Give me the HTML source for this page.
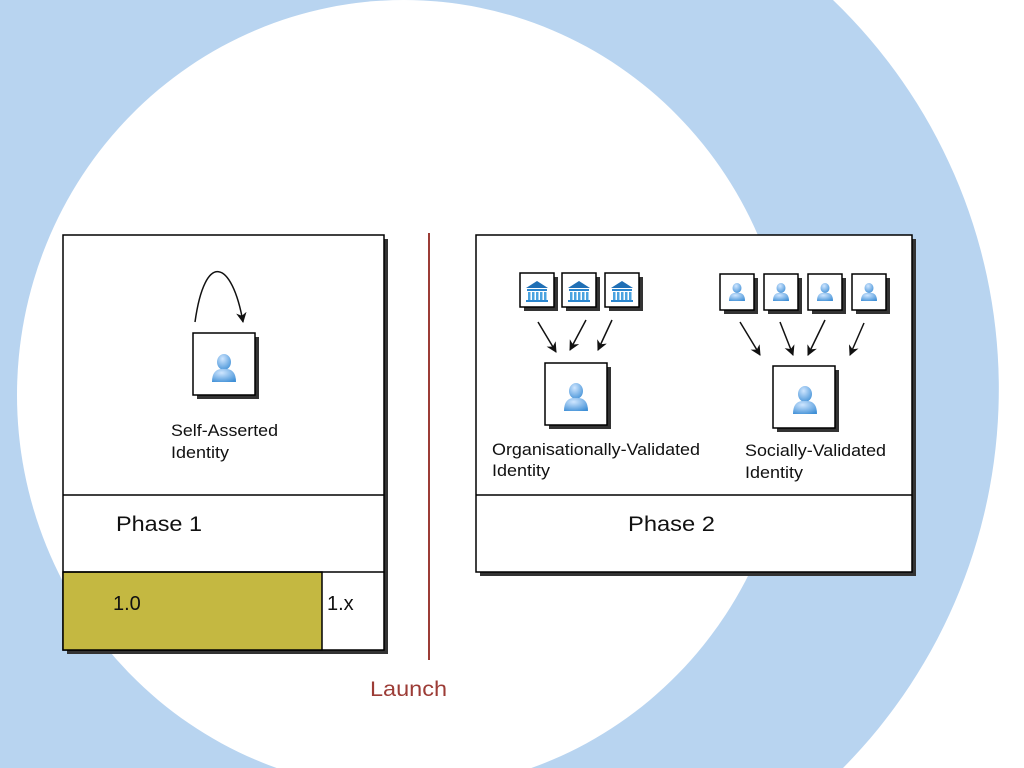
<!DOCTYPE html>
<html><head><meta charset="utf-8"><style>
body{margin:0;width:1024px;height:768px;overflow:hidden;font-family:"Liberation Sans",sans-serif;}
svg{display:block;}
</style></head><body>
<svg width="1024" height="768" xmlns="http://www.w3.org/2000/svg" font-family="Liberation Sans, sans-serif">
<defs>
<radialGradient id="pg" cx="0.4" cy="0.3" r="0.8"><stop offset="0" stop-color="#cfe6ff"/><stop offset="1" stop-color="#3f8fd6"/></radialGradient>
<marker id="ah" viewBox="0 0 10 10" refX="9" refY="5" markerWidth="7" markerHeight="7" orient="auto"><path d="M0,0 L10,5 L0,10 L3,5 z" fill="#111"/></marker>
<g id="person"><ellipse cx="0" cy="-6" rx="7" ry="8" fill="url(#pg)"/><path d="M-12,14 Q-12,0 0,1 Q12,0 12,14 Z" fill="url(#pg)"/></g>
<g id="sperson"><ellipse cx="0" cy="-4" rx="4.5" ry="5" fill="url(#pg)"/><path d="M-8,9 Q-8,0 0,1 Q8,0 8,9 Z" fill="url(#pg)"/></g>
<g id="bank"><path d="M-11,-3 L0,-10 L11,-3 Z" fill="#1f6fb5"/><rect x="-10" y="-2" width="20" height="2" fill="#2a86cf"/><g fill="#4aa3e0"><rect x="-9" y="1" width="2.5" height="8"/><rect x="-5" y="1" width="2.5" height="8"/><rect x="-1" y="1" width="2.5" height="8"/><rect x="3" y="1" width="2.5" height="8"/><rect x="7" y="1" width="2.5" height="8"/></g><rect x="-11" y="9" width="22" height="2" fill="#2a86cf"/></g>
</defs>
<rect width="1024" height="768" fill="#b8d4f0"/>
<path d="M1024,0 L833,0 A539,539 0 0 1 843,768 L1024,768 Z" fill="#fff"/>
<ellipse cx="404" cy="395" rx="387" ry="395" fill="#fff"/>
<!-- left box -->
<rect x="67" y="239" width="321" height="415" fill="#333"/>
<rect x="63" y="235" width="321" height="415" fill="#fff" stroke="#000" stroke-width="1.5"/>
<rect x="63" y="572" width="259" height="78" fill="#c4b841" stroke="#000" stroke-width="1.5"/>
<line x1="63" y1="495" x2="384" y2="495" stroke="#000" stroke-width="1.5"/>
<line x1="63" y1="572" x2="384" y2="572" stroke="#000" stroke-width="1.5"/>
<!-- right box -->
<rect x="480" y="239" width="436" height="337" fill="#333"/>
<rect x="476" y="235" width="436" height="337" fill="#fff" stroke="#000" stroke-width="1.5"/>
<line x1="476" y1="495" x2="912" y2="495" stroke="#000" stroke-width="1.5"/>
<!-- launch line -->
<line x1="429" y1="233" x2="429" y2="660" stroke="#9c3c36" stroke-width="2"/>
<text x="370" y="696" font-size="21" fill="#9c3c36" textLength="77" lengthAdjust="spacingAndGlyphs">Launch</text>
<!-- self -->
<path d="M195,322 C205,250 232,260 243,322" fill="none" stroke="#111" stroke-width="1.5" marker-end="url(#ah)"/>
<rect x="197" y="337" width="62" height="62" fill="#333"/>
<rect x="193" y="333" width="62" height="62" fill="#fff" stroke="#000" stroke-width="1.5"/>
<use href="#person" x="224" y="368"/>
<text x="171" y="436" font-size="17" fill="#111" textLength="107" lengthAdjust="spacingAndGlyphs">Self-Asserted</text>
<text x="171" y="458" font-size="17" fill="#111" textLength="58" lengthAdjust="spacingAndGlyphs">Identity</text>
<!-- banks -->
<g>
<rect x="524" y="277" width="34" height="34" fill="#333"/><rect x="520" y="273" width="34" height="34" fill="#fff" stroke="#000" stroke-width="1.5"/><use href="#bank" x="537" y="291"/>
<rect x="566" y="277" width="34" height="34" fill="#333"/><rect x="562" y="273" width="34" height="34" fill="#fff" stroke="#000" stroke-width="1.5"/><use href="#bank" x="579" y="291"/>
<rect x="609" y="277" width="34" height="34" fill="#333"/><rect x="605" y="273" width="34" height="34" fill="#fff" stroke="#000" stroke-width="1.5"/><use href="#bank" x="622" y="291"/>
</g>
<g stroke="#111" stroke-width="1.5" fill="none" marker-end="url(#ah)">
<line x1="538" y1="322" x2="556" y2="352"/><line x1="586" y1="320" x2="570" y2="350"/><line x1="612" y1="320" x2="598" y2="350"/>
<line x1="740" y1="322" x2="760" y2="355"/><line x1="780" y1="322" x2="793" y2="355"/><line x1="825" y1="320" x2="808" y2="355"/><line x1="864" y1="323" x2="850" y2="355"/>
</g>
<rect x="549" y="367" width="62" height="62" fill="#333"/>
<rect x="545" y="363" width="62" height="62" fill="#fff" stroke="#000" stroke-width="1.5"/>
<use href="#person" x="576" y="397"/>
<text x="492" y="455" font-size="17" fill="#111" textLength="208" lengthAdjust="spacingAndGlyphs">Organisationally-Validated</text>
<text x="492" y="476" font-size="17" fill="#111" textLength="58" lengthAdjust="spacingAndGlyphs">Identity</text>
<!-- social persons -->
<g>
<rect x="724" y="278" width="34" height="36" fill="#333"/><rect x="720" y="274" width="34" height="36" fill="#fff" stroke="#000" stroke-width="1.5"/><use href="#sperson" x="737" y="292"/>
<rect x="768" y="278" width="34" height="36" fill="#333"/><rect x="764" y="274" width="34" height="36" fill="#fff" stroke="#000" stroke-width="1.5"/><use href="#sperson" x="781" y="292"/>
<rect x="812" y="278" width="34" height="36" fill="#333"/><rect x="808" y="274" width="34" height="36" fill="#fff" stroke="#000" stroke-width="1.5"/><use href="#sperson" x="825" y="292"/>
<rect x="856" y="278" width="34" height="36" fill="#333"/><rect x="852" y="274" width="34" height="36" fill="#fff" stroke="#000" stroke-width="1.5"/><use href="#sperson" x="869" y="292"/>
</g>
<rect x="777" y="370" width="62" height="62" fill="#333"/>
<rect x="773" y="366" width="62" height="62" fill="#fff" stroke="#000" stroke-width="1.5"/>
<use href="#person" x="805" y="400"/>
<text x="745" y="456" font-size="17" fill="#111" textLength="141" lengthAdjust="spacingAndGlyphs">Socially-Validated</text>
<text x="745" y="478" font-size="17" fill="#111" textLength="58" lengthAdjust="spacingAndGlyphs">Identity</text>
<!-- labels -->
<text x="116" y="531" font-size="21" fill="#111" textLength="86" lengthAdjust="spacingAndGlyphs">Phase 1</text>
<text x="628" y="531" font-size="21" fill="#111" textLength="87" lengthAdjust="spacingAndGlyphs">Phase 2</text>
<text x="113" y="610" font-size="20" fill="#111">1.0</text>
<text x="327" y="610" font-size="20" fill="#111">1.x</text>
</svg>
</body></html>
